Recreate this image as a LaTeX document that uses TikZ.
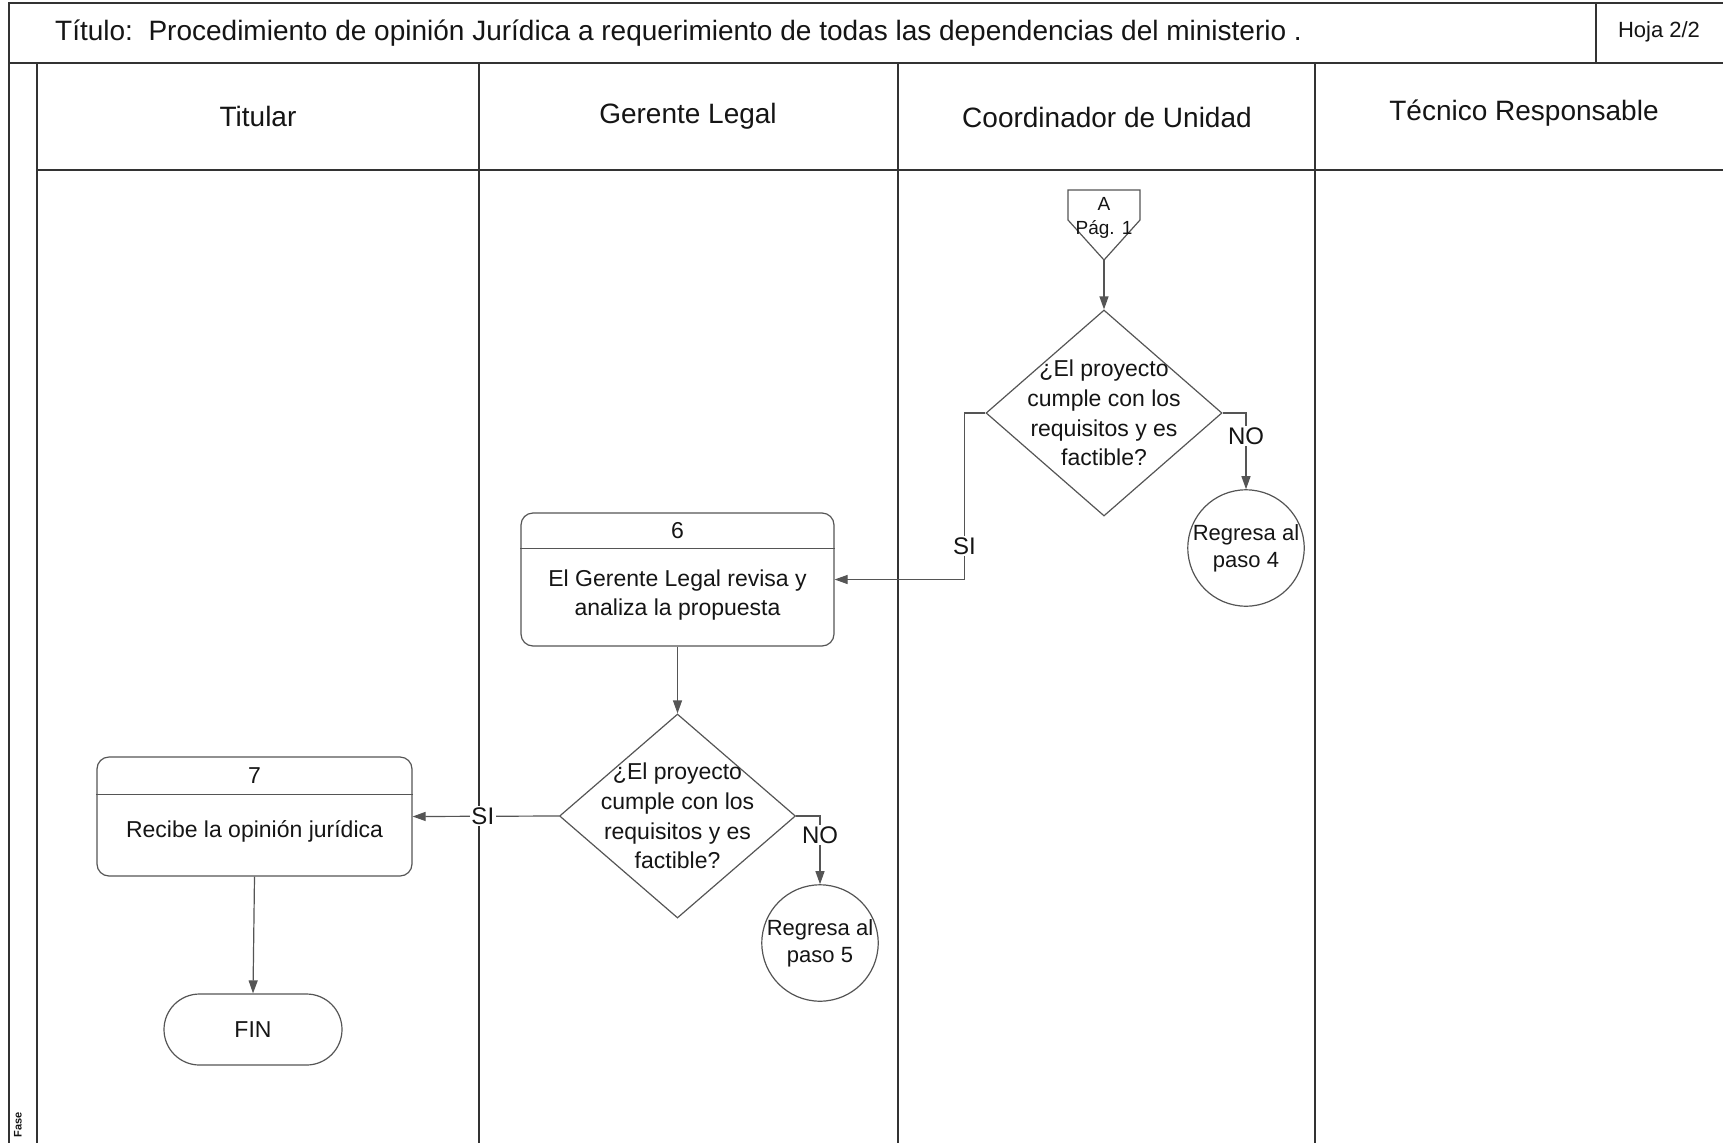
\documentclass[tikz,border=0pt]{standalone}
\usepackage{fontspec}
\setmainfont{Liberation Sans}
\usetikzlibrary{arrows.meta,shapes.geometric,shapes.misc}
\definecolor{ink}{HTML}{151515}
\definecolor{rule}{HTML}{333333}
\definecolor{shapegray}{HTML}{555555}

\begin{document}
\begin{tikzpicture}[x=1pt,y=-1pt,
  every node/.style={text=ink, inner sep=0pt},
  frameline/.style={draw=rule, line width=1.9pt},
  laneline/.style={draw=rule, line width=1.2pt},
  shapeline/.style={draw=shapegray, line width=1.2pt},
  flow/.style={shapeline, -{Triangle[length=13pt,width=9pt]}},
  procbox/.style={shapeline, rectangle, rounded corners=12pt},
  decision/.style={shapeline, diamond},
  returncircle/.style={shapeline, circle, align=center,
    font=\fontsize{22}{27}\selectfont},
  terminal/.style={shapeline, rounded rectangle, font=\fontsize{23}{28}\selectfont},
  bodytext/.style={align=center, font=\fontsize{23}{29.7}\selectfont},
  headtext/.style={font=\fontsize{28}{34}\selectfont},
  branchlabel/.style={fill=white, inner sep=1.5pt, font=\fontsize{24}{28}\selectfont},
]
% page
\useasboundingbox (0,0) rectangle (1723,1143);
\fill[white] (0,0) rectangle (1723,1143);

% title row
\draw[frameline] (1723,3) -- (9,3) -- (9,1143);
\draw[frameline] (9,63) -- (1723,63);
\draw[laneline] (1596,3) -- (1596,63);
\node[anchor=west, font=\fontsize{28}{33}\selectfont] (title) at (55,33)
  {Título:\ \ Procedimiento de opinión Jurídica a requerimiento de todas las dependencias del ministerio .};
\node[font=\fontsize{22}{26}\selectfont] (sheet) at (1659,32) {Hoja 2/2};

% swimlanes
\draw[frameline] (37,63) -- (37,1143);
\draw[frameline] (37,170) -- (1723,170);
\draw[laneline] (479,63) -- (479,1143);
\draw[laneline] (898,63) -- (898,1143);
\draw[laneline] (1315,63) -- (1315,1143);
\node[headtext] (h1) at (258,116) {Titular};
\node[headtext] (h2) at (688,116) {Gerente Legal};
\node[headtext] (h3) at (1107,117) {Coordinador de Unidad};
\node[headtext] (h4) at (1524,113) {Técnico Responsable};
\node[rotate=90, font=\bfseries\fontsize{11}{13}\selectfont] (fase) at (18,1125) {Fase};

% off-page connector A
\draw[shapeline] (1068,190) -- (1140,190) -- (1140,220) -- (1104,260) -- (1068,220) -- cycle;
\node[font=\fontsize{19}{22}\selectfont] (conA) at (1104,204) {A};
\node[font=\fontsize{19}{22}\selectfont] (conApg) at (1104,229) {Pág. 1};
\coordinate (conAtip) at (1104,260);

% decision 1 (Coordinador de Unidad)
\node[decision, minimum width=236pt, minimum height=206pt] (d1) at (1104,413) {};
\node[bodytext] (d1t) at (1104,413) {¿El proyecto\\cumple con los\\requisitos y es\\factible?};
\node[returncircle, minimum size=112pt] (r4) at (1246,548) {Regresa al\\paso 4};

% step 6 (Gerente Legal)
\node[procbox, minimum width=313pt, minimum height=133pt] (p6) at (677.5,579.5) {};
\draw[shapeline] ([yshift=-36pt]p6.north west) -- ([yshift=-36pt]p6.north east);
\node[bodytext] (p6n) at (677.5,531) {6};
\node[bodytext] (p6t) at (677.5,595) {El Gerente Legal revisa y\\analiza la propuesta};

% decision 2 (Gerente Legal)
\node[decision, minimum width=236pt, minimum height=204pt] (d2) at (677.5,816) {};
\node[bodytext] (d2t) at (677.5,816) {¿El proyecto\\cumple con los\\requisitos y es\\factible?};
\node[returncircle, minimum size=114pt] (r5) at (820,943) {Regresa al\\paso 5};

% step 7 (Titular)
\node[procbox, minimum width=315pt, minimum height=119pt] (p7) at (254.5,816.5) {};
\draw[shapeline] ([yshift=-38pt]p7.north west) -- ([yshift=-38pt]p7.north east);
\node[bodytext] (p7n) at (254.5,776) {7};
\node[bodytext] (p7t) at (254.5,831) {Recibe la opinión jurídica};

% end
\node[terminal, minimum width=178pt, minimum height=71pt] (fin) at (253,1029.5) {FIN};

% connectors
\draw[flow] (conAtip) -- (d1.north);
\draw[flow] (d1.east) -| (r4.north) node[pos=0.65, branchlabel] {NO};
\draw[flow] (d1.west) -- ++(-21,0) |- (p6.east) node[pos=0.4, branchlabel] {SI};
\draw[flow] (p6.south) -- (d2.north);
\draw[flow] (d2.east) -| (r5.north) node[pos=0.64, branchlabel] {NO};
\draw[flow] (d2.west) -- (p7.east) node[pos=0.52, branchlabel] {SI};
\draw[flow] (p7.south) -- (fin.north);
\end{tikzpicture}
\end{document}
